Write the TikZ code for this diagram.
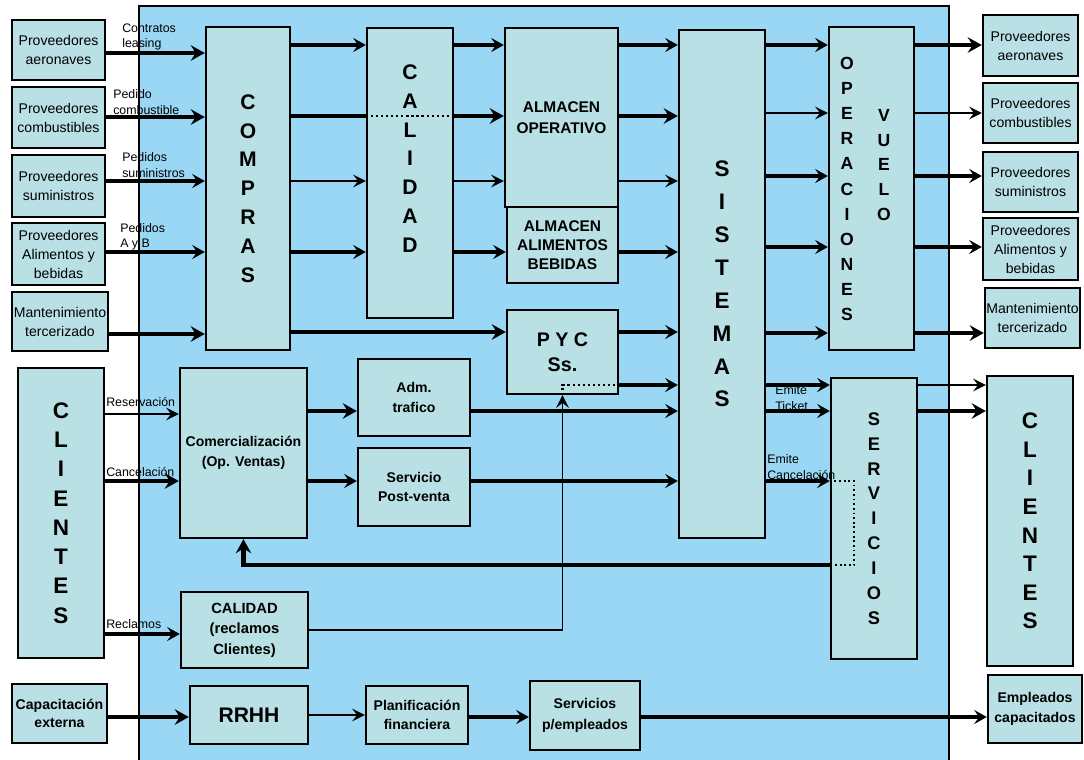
\documentclass[tikz,border=0pt]{standalone}
\usepackage{fontspec}
\setmainfont{Liberation Sans}
\usetikzlibrary{arrows.meta}
\definecolor{boxfill}{RGB}{185,224,228}
\definecolor{panelblue}{RGB}{153,215,245}

\begin{document}
\begin{tikzpicture}[x=0.025cm,y=-0.025cm,
    sz/.style 2 args={minimum width=#1*0.025cm,minimum height=#2*0.025cm},
    box node/.style={draw,fill=boxfill,line width=1.7pt,inner sep=0pt,align=center,font=\fontsize{10}{13.5}\selectfont},
    bold node/.style={box node,font=\bfseries\fontsize{10}{14}\selectfont},
    letter node/.style={inner sep=0pt,align=center},
    flow label/.style={anchor=west,align=left,inner sep=0pt,font=\fontsize{8.8}{10.8}\selectfont},
    thin flow/.style={line width=1.4pt,-{Stealth[length=9pt,width=9pt,inset=3.5pt]}},
    mid flow/.style={line width=2.2pt,-{Stealth[length=9pt,width=10pt,inset=3.5pt]}},
    thick flow/.style={line width=2.9pt,-{Stealth[length=10pt,width=11pt,inset=3.5pt]}}]

  \useasboundingbox (0,0) rectangle (1084,759);
  \draw[fill=panelblue,line width=0.8pt] (139,6) rectangle (949,765);

  \coordinate (a1) at (0,53);  \coordinate (a2) at (0,117); \coordinate (a3) at (0,181);
  \coordinate (a4) at (0,252); \coordinate (a5) at (0,334);
  \coordinate (b1) at (0,45);  \coordinate (b2) at (0,116); \coordinate (b3) at (0,181);
  \coordinate (b4) at (0,252); \coordinate (b5) at (0,332);
  \coordinate (c1) at (0,45);  \coordinate (c2) at (0,113); \coordinate (c3) at (0,176);
  \coordinate (c4) at (0,247); \coordinate (c5) at (0,333);
  \coordinate (d1) at (0,385); \coordinate (d2) at (0,411); \coordinate (d3) at (0,481);
  \coordinate (d4) at (0,565); \coordinate (d5) at (0,634); \coordinate (d6) at (0,717);
  \coordinate (d7) at (0,414); \coordinate (loop) at (854,0);

  % proveedores (entrada)
  \node[box node,sz={93}{60}] at (58.5,50) (provL1) {Proveedores\\aeronaves};
  \node[box node,sz={93}{61}] at (58.5,117.5) (provL2) {Proveedores\\combustibles};
  \node[box node,sz={93}{62}] at (58.5,186) (provL3) {Proveedores\\suministros};
  \node[box node,sz={93}{62}] at (58.5,254) (provL4) {Proveedores\\Alimentos y\\bebidas};
  \node[box node,sz={96}{59}] at (60,321.5) (mantL) {Mantenimiento\\tercerizado};

  \node[box node,sz={84}{323},font=\bfseries\fontsize{15}{20.5}\selectfont] at (248,188.5) (compras) {C\\O\\M\\P\\R\\A\\S};
  \node[box node,sz={86}{290}] at (410,173) (calidad) {};
  \node[letter node,font=\bfseries\fontsize{15}{20.5}\selectfont] at (410,158.5) (calidadtxt) {C\\A\\L\\I\\D\\A\\D};
  \node[box node,sz={113}{179},font=\bfseries\fontsize{11}{14.5}\selectfont] at (561.5,117.5) (almop) {ALMACEN\\OPERATIVO};
  \node[box node,sz={111}{76},font=\bfseries\fontsize{11}{13.5}\selectfont] at (562.5,245) (almab) {ALMACEN\\ALIMENTOS\\BEBIDAS};
  \node[box node,sz={111}{84},font=\bfseries\fontsize{14}{17.7}\selectfont] at (562.5,352) (pyc) {P Y C\\Ss.};
  \node[box node,sz={86}{508},font=\bfseries\fontsize{16}{23.4}\selectfont] at (722,284) (sistemas) {S\\I\\S\\T\\E\\M\\A\\S};
  \node[box node,sz={85}{323}] at (871.5,188.5) (opv) {};
  \node[letter node,font=\bfseries\fontsize{12.5}{17.9}\selectfont] at (847,189) (opstxt) {O\\P\\E\\R\\A\\C\\I\\O\\N\\E\\S};
  \node[letter node,font=\bfseries\fontsize{12.5}{17.7}\selectfont] at (884,165) (vuelotxt) {V\\U\\E\\L\\O};

  % proveedores (salida)
  \node[box node,sz={95}{61}] at (1030.5,45.5) (provR1) {Proveedores\\aeronaves};
  \node[box node,sz={95}{60}] at (1030.5,113) (provR2) {Proveedores\\combustibles};
  \node[box node,sz={95}{60}] at (1030.5,182) (provR3) {Proveedores\\suministros};
  \node[box node,sz={95}{62}] at (1030.5,249) (provR4) {Proveedores\\Alimentos y\\bebidas};
  \node[box node,sz={95}{60}] at (1032.5,318) (mantR) {Mantenimiento\\tercerizado};

  % clientes
  \node[box node,sz={86}{290},font=\bfseries\fontsize{16}{20.8}\selectfont] at (61,513) (clientesL) {C\\L\\I\\E\\N\\T\\E\\S};
  \node[bold node,sz={127}{170}] at (243.5,453) (comerc) {Comercialización\\(Op. Ventas)};
  \node[bold node,sz={112}{77}] at (414,397.5) (adm) {Adm.\\trafico};
  \node[bold node,sz={112}{78}] at (414,487) (postv) {Servicio\\Post-venta};
  \node[bold node,sz={127}{76},font=\bfseries\fontsize{10.5}{14.5}\selectfont] at (244.5,630) (calrec) {CALIDAD\\(reclamos\\Clientes)};
  \node[box node,sz={86}{281},font=\bfseries\fontsize{13}{17.7}\selectfont] at (874,518.5) (servicios) {S\\E\\R\\V\\I\\C\\I\\O\\S};
  \node[box node,sz={86}{290},font=\bfseries\fontsize{16}{20.3}\selectfont] at (1030,521) (clientesR) {C\\L\\I\\E\\N\\T\\E\\S};

  % personal
  \node[bold node,sz={95}{59},font=\bfseries\fontsize{10}{12.8}\selectfont] at (59.5,713.5) (capext) {Capacitación\\externa};
  \node[bold node,sz={118}{58},font=\bfseries\fontsize{15}{18}\selectfont] at (249,715) (rrhh) {RRHH};
  \node[bold node,sz={102}{58}] at (417,715) (planif) {Planificación\\financiera};
  \node[bold node,sz={110}{69},font=\bfseries\fontsize{10}{15}\selectfont] at (585,715.5) (servemp) {Servicios\\p/empleados};
  \node[bold node,sz={94}{68}] at (1035,709) (empcap) {Empleados\\capacitados};

  \node[flow label] at (122,37) (lblleasing) {Contratos\\leasing};
  \node[flow label] at (113,102) (lblcomb) {Pedido\\combustible};
  \node[flow label] at (122,165) (lblsum) {Pedidos\\suministros};
  \node[flow label] at (120,237) (lblayb) {Pedidos\\A y B};
  \node[flow label] at (106,402) (lblres) {Reservación};
  \node[flow label] at (106,472) (lblcanc) {Cancelación};
  \node[flow label] at (106,624) (lblrecl) {Reclamos};
  \node[flow label] at (775,398) (lblticket) {Emite\\Ticket};
  \node[flow label] at (767,467) (lblemcanc) {Emite\\Cancelación};

  \path[thick flow]
  (provL1.east |- a1) edge (compras.west |- a1)
  (provL2.east |- a2) edge (compras.west |- a2)
  (mantL.east |- a5) edge (compras.west |- a5)
  (compras.east |- b5) edge (pyc.west |- b5)
  (calidad.east |- b2) edge (almop.west |- b2)
  (almop.east |- b2) edge (sistemas.west |- b2)
  (opv.east |- c1) edge (provR1.west |- c1)
  (opv.east |- c5) edge (mantR.west |- c5)
  (servicios.east |- d2) edge (clientesR.west |- d2)
  (comerc.east |- d2) edge (adm.west |- d2)
  (clientesL.east |- d3) edge (comerc.west |- d3)
  (capext.east |- d6) edge (rrhh.west |- d6);

  \path[mid flow]
  (provL3.east |- a3) edge (compras.west |- a3)
  (provL4.east |- a4) edge (compras.west |- a4)
  (compras.east |- b1) edge (calidad.west |- b1)
  (compras.east |- b4) edge (calidad.west |- b4)
  (calidad.east |- b1) edge (almop.west |- b1)
  (calidad.east |- b4) edge (almab.west |- b4)
  (almop.east |- b1) edge (sistemas.west |- b1)
  (almab.east |- b4) edge (sistemas.west |- b4)
  (pyc.east |- b5) edge (sistemas.west |- b5)
  (sistemas.east |- c1) edge (opv.west |- c1)
  (sistemas.east |- c3) edge (opv.west |- c3)
  (sistemas.east |- c4) edge (opv.west |- c4)
  (sistemas.east |- c5) edge (opv.west |- c5)
  (opv.east |- c3) edge (provR3.west |- c3)
  (opv.east |- c4) edge (provR4.west |- c4)
  (sistemas.east |- d1) edge (servicios.west |- d1)
  (sistemas.east |- d2) edge (servicios.west |- d2)
  (sistemas.east |- d3) edge (servicios.west |- d3)
  (pyc.east |- d1) edge (sistemas.west |- d1)
  (comerc.east |- d3) edge (postv.west |- d3)
  (adm.east |- d2) edge (sistemas.west |- d2)
  (postv.east |- d3) edge (sistemas.west |- d3)
  (clientesL.east |- d5) edge (calrec.west |- d5)
  (planif.east |- d6) edge (servemp.west |- d6)
  (servemp.east |- d6) edge (empcap.west |- d6);

  \path[thin flow]
  (compras.east |- b3) edge (calidad.west |- b3)
  (calidad.east |- b3) edge (almop.west |- b3)
  (almop.east |- b3) edge (sistemas.west |- b3)
  (sistemas.east |- c2) edge (opv.west |- c2)
  (opv.east |- c2) edge (provR2.west |- c2)
  (servicios.east |- d1) edge (clientesR.west |- d1)
  (clientesL.east |- d7) edge (comerc.west |- d7)
  (rrhh.east) edge (planif.west);

  \draw[line width=2.9pt] (compras.east |- b2) -- (calidad.west |- b2);
  \draw[dotted,line width=1.6pt] (calidad.west |- b2) -- (calidad.east |- b2);
  \draw[dotted,line width=1.6pt] (pyc.south) |- (pyc.east |- d1);
  \draw[line width=1pt,-{Stealth[length=9pt,width=9pt,inset=3.5pt]}] (calrec.east) -| (pyc.south);
  \draw[dotted,line width=1.3pt] (servicios.west |- d3) -| (loop |- d4) -- (servicios.west |- d4);
  \draw[thick flow] (servicios.west |- d4) -| (comerc.south);
\end{tikzpicture}
\end{document}
